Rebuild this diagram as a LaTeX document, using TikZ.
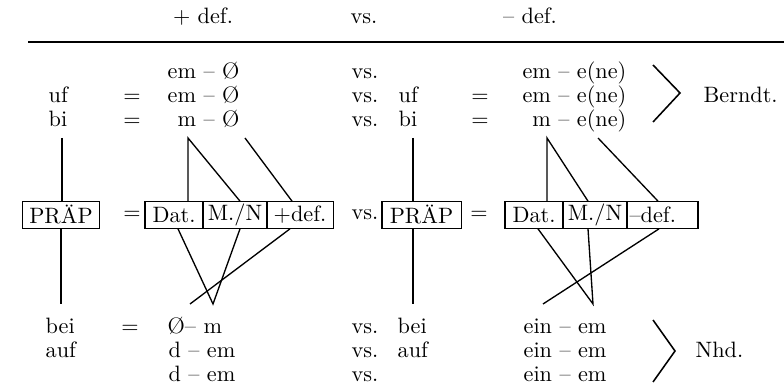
\documentclass[tikz,border=0pt]{standalone}
\tikzset{
  every picture/.style={line width=0.6pt},
  word/.style={inner sep=0pt, anchor=base west},
  wordr/.style={inner sep=0pt, anchor=base east},
  cell/.style={draw, line width=0.5pt, inner sep=0pt, minimum height=4.2mm, minimum width=#1},
  cell/.default=10mm,
  brace/.style={line width=0.7pt},
}

\begin{document}
\begin{tikzpicture}[x=1.58mm, y=-1.58mm]
  \useasboundingbox (0,0) rectangle (78.4,38.8);
  % head
  \node[word, anchor=base] (hplus) at (20.3,2.4) {+ def.};
  \node[word] (hvs) at (35.0,2.4) {vs.};
  \node[word, anchor=base] (hminus) at (53.0,2.4) {– def.};
  \draw (2.8,4.2) -- (78.4,4.2);
  % Berndt.
  \node[wordr] (ta1) at (24.0,7.9) {em – Ø};
  \node[word] (tuf1) at (4.8,10.3) {uf};
  \node[word, anchor=base] (teq1) at (13.2,10.3) {=};
  \node[wordr] (ta2) at (24.0,10.3) {em – Ø};
  \node[word] (tbi1) at (4.8,12.7) {bi};
  \node[word, anchor=base] (teq2) at (13.2,12.7) {=};
  \node[wordr] (ta3) at (24.0,12.7) {m – Ø};
  \node[word] (tuf2) at (39.8,10.3) {uf};
  \node[word, anchor=base] (teq3) at (48.0,10.3) {=};
  \node[word] (tbi2) at (39.8,12.7) {bi};
  \node[word, anchor=base] (teq4) at (48.0,12.7) {=};
  \node[wordr] (tb1) at (62.7,7.9) {em – e(ne)};
  \node[wordr] (tb2) at (62.7,10.3) {em – e(ne)};
  \node[wordr] (tb3) at (62.7,12.7) {m – e(ne)};
  \node[word] (berndt) at (70.3,10.3) {Berndt.};
  \draw[brace] (65.3,6.5) -- (68.0,9.3) -- (65.3,12.2);
  % vs. column
  \foreach \y [count=\i] in {7.9,10.3,12.7,33.4,35.8,38.2} \node[word] (vs\i) at (35.1,\y) {vs.};
  % middle
  \node[cell=12.3mm] (pL) at (6.1,21.5) {PRÄP};
  \node (meq1) at (13.2,21.5) {=};
  \node[cell=9.16mm] (dat1) at (17.4,21.5) {Dat.};
  \node[cell=10.1mm] (mn1) at (23.5,21.5) {M./N};
  \node[cell=10.6mm] (def1) at (30.0,21.5) {+def.};
  \node[inner sep=0pt, anchor=west] (mvs) at (35.1,21.5) {vs.};
  \node[cell=12.5mm] (pR) at (42.15,21.5) {PRÄP};
  \node (meq2) at (47.9,21.5) {=};
  \node[cell=9.16mm] (dat2) at (53.4,21.5) {Dat.};
  \node[cell=10.1mm] (mn2) at (59.5,21.5) {M./N};
  \node[cell=11.2mm, text width=10.4mm, align=left] (def2) at (66.25,21.5) {–def.};
  % links up
  \coordinate (lt) at (6.2,13.8);
  \coordinate (a1) at (18.8,13.8);
  \coordinate (b1) at (24.5,13.8);
  \coordinate (rt) at (41.3,13.8);
  \coordinate (a2) at (54.7,13.8);
  \coordinate (b2) at (59.8,13.8);
  \draw (lt) -- (lt |- pL.north);
  \draw (a1 |- dat1.north) -- (a1) -- ([shift={(0.5,0)}]mn1.north);
  \draw (b1) -- ([shift={(-0.8,0)}]def1.north);
  \draw (rt) -- (rt |- pR.north);
  \draw (a2 |- dat2.north) -- (a2) -- ([shift={(-0.7,0)}]mn2.north);
  \draw (b2) -- ([shift={(-0.45,0)}]def2.north);
  % links down
  \coordinate (lb) at (6.1,30.4);
  \coordinate (v1) at (21.3,30.4);
  \coordinate (w1) at (19.0,30.4);
  \coordinate (rb) at (41.3,30.4);
  \coordinate (v2) at (59.3,30.4);
  \coordinate (w2) at (54.3,30.4);
  \draw (pL) -- (lb);
  \draw ([shift={(0.4,0)}]dat1.south) -- (v1) -- ([shift={(0.5,0)}]mn1.south);
  \draw ([shift={(-1.0,0)}]def1.south) -- (w1);
  \draw (rb |- pR.south) -- (rb);
  \draw ([shift={(0.4,0)}]dat2.south) -- (v2) -- ([shift={(-0.7,0)}]mn2.south);
  \draw ([shift={(-0.35,0)}]def2.south) -- (w2);
  % Nhd.
  \node[word] (tbei1) at (4.5,33.4) {bei};
  \node[word, anchor=base] (teq5) at (13.0,33.4) {=};
  \node[word] (tauf1) at (4.5,35.8) {auf};
  \node[word] (tc1) at (16.7,33.4) {Ø– m};
  \node[word] (tc2) at (16.8,35.8) {d – em};
  \node[word] (tc3) at (16.8,38.2) {d – em};
  \node[word] (tbei2) at (39.7,33.4) {bei};
  \node[word] (tauf2) at (39.7,35.8) {auf};
  \foreach \y [count=\i] in {33.4,35.8,38.2} \node[word] (td\i) at (52.3,\y) {ein – em};
  \node[word] (nhd) at (69.5,35.8) {Nhd.};
  \draw[brace] (65.3,32.0) -- (67.5,35.1) -- (65.3,38.2);
\end{tikzpicture}
\end{document}
